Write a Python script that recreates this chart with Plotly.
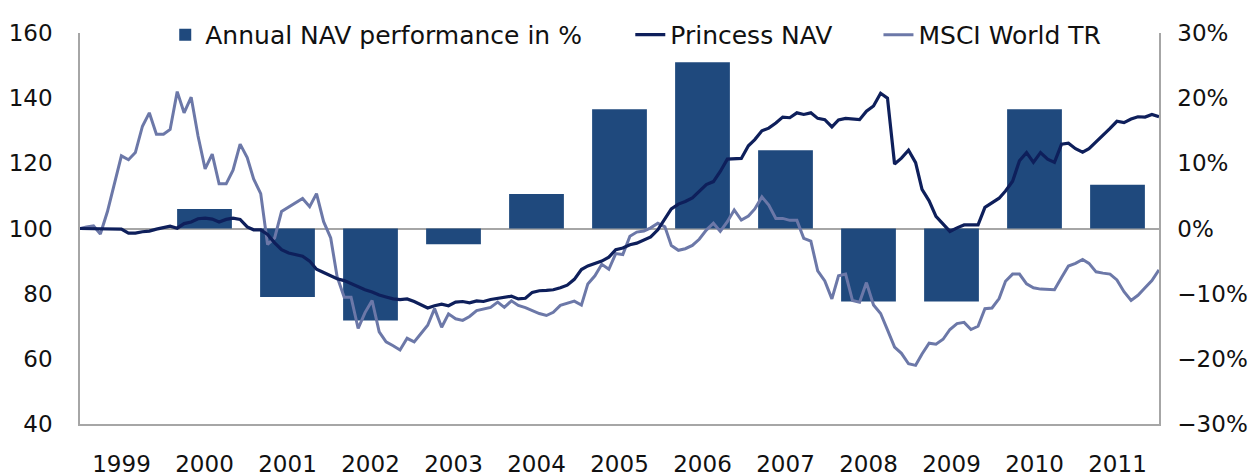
"""Princess NAV vs MSCI World TR with annual NAV performance bars."""

import pandas as pd
import plotly.graph_objects as go

# ── Data ─────────────────────────────────────────────────────────────
years = [str(y) for y in range(1999, 2012)]
annual_perf = [None, 3.0, -10.5, -14.1, -2.4, 5.3, 18.3, 25.5, 12.0, -11.2, -11.2, 18.3, 6.7]

months = pd.date_range("1999-01-31", periods=156, freq="ME")

princess_nav = [
    100, 100, 100, 100, 100, 100, 99.8, 98.6, 98.6, 99,
    99.2, 99.8, 100.3, 100.7, 100.1, 101.5, 102, 103, 103.2, 102.9,
    102, 102.8, 103.2, 102.8, 100.5, 99.6, 99.6, 98.2, 95.6, 93.5,
    92.5, 92, 91.5, 90, 87.5, 86.5, 85.4, 84.6, 84, 83,
    82.1, 81.2, 80.5, 79.6, 79, 78.4, 78.2, 78.4, 77.6, 76.6,
    75.6, 76.3, 76.8, 76.3, 77.4, 77.6, 77.2, 77.8, 77.6, 78.2,
    78.5, 78.8, 79.2, 78.4, 78.6, 80.4, 80.9, 81, 81.2, 81.8,
    82.6, 84.4, 87.4, 88.5, 89.3, 90, 91.2, 93.5, 94, 95,
    95.5, 96.4, 97.4, 99.6, 102.8, 106, 107.5, 108.3, 109.4, 111.5,
    113.5, 114.4, 117.5, 121.3, 121.3, 121.5, 125.4, 127.3, 130, 130.8,
    132.4, 134.2, 134, 135.5, 135, 135.5, 133.8, 133.4, 131.2, 133.3,
    133.8, 133.6, 133.4, 136, 137.6, 141.5, 140, 119.8, 121.6, 124,
    120.2, 112, 108.5, 103.7, 101.3, 99.1, 100.2, 101.1, 101.1, 101.1,
    106.5, 107.8, 109.3, 111.5, 114.5, 120.8, 123.3, 120.3, 123.3, 121.3,
    120.3, 125.9, 126.2, 124.5, 123.4, 124.5, 126.5, 128.6, 130.7, 132.9,
    132.5, 133.6, 134.3, 134.2, 135, 134.3,
]

msci_world = [
    100, 100.5, 100.8, 98.3, 105.2, 114, 122.3, 121.1, 123.3, 131.4,
    135.5, 128.9, 128.9, 130.4, 142, 135.5, 140.3, 128.4, 118.3, 122.8,
    113.7, 113.7, 117.9, 125.9, 121.8, 115.2, 110.7, 95.1, 97.1, 105.2,
    106.5, 108, 109.2, 106.7, 110.7, 102.1, 97.1, 85.2, 78.9, 78.9,
    69.3, 74.2, 77.9, 68.3, 65.2, 64, 62.7, 66.3, 65.2, 67.6,
    70.3, 75.4, 69.7, 73.8, 72.3, 71.8, 73, 74.8, 75.3, 75.8,
    77.4, 75.8, 77.8, 76.4, 75.7, 74.7, 73.9, 73.3, 74.3, 76.4,
    77, 77.7, 76.5, 83, 85.5, 89, 87.5, 92.3, 92, 97.6,
    98.9, 99.2, 100.2, 101.6, 100.5, 94.8, 93.3, 93.8, 94.8, 96.7,
    99.5, 101.6, 99.1, 102.1, 105.7, 102.6, 103.8, 106, 109.7, 107.2,
    103.1, 103.1, 102.5, 102.5, 97, 96.1, 87, 83.9, 78.4, 85.5,
    86, 77.9, 77.4, 83.4, 76.5, 73.9, 68.9, 63.6, 61.7, 58.5,
    58, 61.5, 64.8, 64.5, 66, 69, 70.8, 71.2, 69, 70,
    75.4, 75.6, 78.5, 83.8, 86, 86, 83, 81.8, 81.4, 81.3,
    81.2, 85, 88.5, 89.3, 90.5, 89.3, 86.7, 86.3, 86, 84.2,
    80.6, 77.9, 79.5, 81.8, 84, 87.3,
]

BAR_COLOR = "#1F497D"
NAV_COLOR = "#0E1F5B"
MSCI_COLOR = "#6C78A8"
AXIS_COLOR = "#A6A6A6"
TEXT_COLOR = "#111111"
FONT = "DejaVu Sans, Verdana, sans-serif"
TICK_SIZE = 23
LEGEND_SIZE = 25

fig = go.Figure()

# ── Bars: annual NAV performance (right % axis) ──────────────────────
fig.add_trace(
    go.Bar(
        x=years,
        y=annual_perf,
        name="Annual NAV performance in %",
        marker=dict(color=BAR_COLOR, line=dict(width=0)),
        xaxis="x", yaxis="y",
        legend="legend",
    )
)

# ── Lines: indexed NAV and benchmark (left axis) ─────────────────────
fig.add_trace(
    go.Scatter(
        x=months, y=msci_world,
        mode="lines", name="MSCI World TR",
        line=dict(color=MSCI_COLOR, width=3),
        xaxis="x2", yaxis="y2",
        legend="legend3",
    )
)
fig.add_trace(
    go.Scatter(
        x=months, y=princess_nav,
        mode="lines", name="Princess NAV",
        line=dict(color=NAV_COLOR, width=3.2),
        xaxis="x2", yaxis="y2",
        legend="legend2",
    )
)

legend_common = dict(
    orientation="h", yanchor="middle", y=0.995, xanchor="left",
    bgcolor="rgba(0,0,0,0)",
    font=dict(size=LEGEND_SIZE, color=TEXT_COLOR, family=FONT),
)

fig.update_layout(
    width=1251, height=476,
    paper_bgcolor="white", plot_bgcolor="white",
    margin=dict(l=80, r=92, t=28, b=52),
    font=dict(family=FONT, size=TICK_SIZE, color=TEXT_COLOR),
    bargap=0.34,
    showlegend=True,
    legend=dict(x=0.079, **legend_common),
    legend2=dict(x=0.510, **legend_common),
    legend3=dict(x=0.740, **legend_common),
    xaxis=dict(
        type="category", categoryorder="array", categoryarray=years,
        range=[-0.5, len(years) - 0.5], automargin=False,
        showline=True, linecolor=AXIS_COLOR, linewidth=1.5,
        showgrid=False, ticks="", ticklabelstandoff=19,
        tickfont=dict(size=TICK_SIZE),
    ),
    xaxis2=dict(
        overlaying="x", range=[months[0], months[-1]],
        visible=False, showgrid=False, automargin=False,
    ),
    yaxis=dict(
        side="right", range=[-30, 30], dtick=10, ticksuffix="%",
        automargin=False,
        showline=True, linecolor=AXIS_COLOR, linewidth=1.5,
        showgrid=False, zeroline=True, zerolinecolor=AXIS_COLOR, zerolinewidth=1.5,
        ticks="", ticklabelstandoff=12, tickfont=dict(size=TICK_SIZE),
    ),
    yaxis2=dict(
        overlaying="y", side="left", range=[40, 160], dtick=20,
        automargin=False,
        showline=True, linecolor=AXIS_COLOR, linewidth=1.5,
        showgrid=False, zeroline=False,
        ticks="", ticklabelstandoff=21, tickfont=dict(size=TICK_SIZE),
    ),
)

# the page body's default 8px margin would shift the whole figure
fig.write_html(
    "out.html",
    config={"displayModeBar": False},
    post_script="document.body.style.margin = '0';",
)
